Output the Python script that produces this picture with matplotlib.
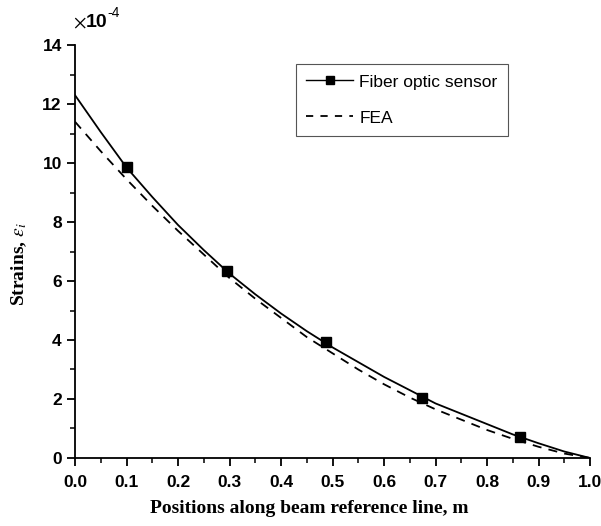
import matplotlib
matplotlib.use("Agg")
import matplotlib.pyplot as plt
from matplotlib.ticker import MultipleLocator
from matplotlib.lines import Line2D

# Data (strain in units of 1e-4)
x_curve = [0.0, 0.05, 0.1, 0.15, 0.2, 0.25, 0.3, 0.35, 0.4, 0.45, 0.5,
           0.55, 0.6, 0.65, 0.7, 0.75, 0.8, 0.85, 0.9, 0.95, 1.0]
sensor_curve = [12.3, 11.05, 9.85, 8.85, 7.9, 7.05, 6.25, 5.55, 4.9, 4.3, 3.75,
                3.25, 2.75, 2.3, 1.85, 1.5, 1.15, 0.8, 0.5, 0.22, 0.0]
fea_curve = [11.4, 10.4, 9.45, 8.55, 7.7, 6.9, 6.1, 5.4, 4.75, 4.1, 3.55,
             3.0, 2.5, 2.05, 1.65, 1.3, 0.95, 0.65, 0.38, 0.15, 0.0]
sensor_x = [0.1, 0.295, 0.487, 0.674, 0.864]
sensor_y = [9.85, 6.33, 3.92, 2.05, 0.70]

x_ticks = [0.0, 0.1, 0.2, 0.3, 0.4, 0.5, 0.6, 0.7, 0.8, 0.9, 1.0]
y_ticks = [0, 2, 4, 6, 8, 10, 12, 14]

plt.rcParams['mathtext.fontset'] = 'stix'

fig = plt.figure(figsize=(6.01, 5.26), dpi=100)
ax = fig.add_axes([0.1248, 0.1293, 0.8569, 0.7851])

ax.plot(x_curve, sensor_curve, color='black', lw=1.3)
ax.plot(sensor_x, sensor_y, ls='none', marker='s', ms=7, color='black')
ax.plot(x_curve, fea_curve, color='black', lw=1.3, ls=(0, (5, 4)))

h1 = Line2D([], [], color='black', lw=1.0, marker='s', ms=6)
h2 = Line2D([], [], color='black', lw=1.3, ls=(0, (4, 4)))
leg = ax.legend([h1, h2], ['Fiber optic sensor', 'FEA'],
                loc='upper right', bbox_to_anchor=(0.845, 1 - 64 / 526),
                bbox_transform=fig.transFigure,
                prop={'family': 'Liberation Sans', 'size': 12.5},
                fancybox=False, framealpha=1, edgecolor='#555555',
                handlelength=2.7, handletextpad=0.35, borderpad=0.6,
                labelspacing=1.2, borderaxespad=0)
leg.get_frame().set_linewidth(0.8)

ax.set_xlim(0, 1.0)
ax.set_ylim(0, 14)
ax.set_xticks(x_ticks)
ax.set_yticks(y_ticks)
ax.set_xticklabels([f"{v:.1f}" for v in x_ticks])
ax.set_yticklabels([str(v) for v in y_ticks])
ax.xaxis.set_minor_locator(MultipleLocator(0.05))
ax.yaxis.set_minor_locator(MultipleLocator(1))

for s in ['top', 'right']:
    ax.spines[s].set_visible(False)
for s in ['left', 'bottom']:
    ax.spines[s].set_linewidth(1.3)
ax.tick_params(which='major', direction='out', length=6, width=1.3)
ax.tick_params(axis='x', which='major', pad=6)
ax.tick_params(which='minor', direction='out', length=3.5, width=1.1)
for lab in ax.get_xticklabels() + ax.get_yticklabels():
    lab.set_fontfamily('Liberation Sans')
    lab.set_fontweight('bold')
    lab.set_fontsize(12.5)

ax.set_xlabel('Positions along beam reference line, m', family='Liberation Serif',
              fontweight='bold', fontsize=14)
ax.set_ylabel(r'Strains, $\varepsilon_i$', family='Liberation Serif',
              fontweight='bold', fontsize=14)
ax.xaxis.set_label_coords(0.455, -0.102)
ax.yaxis.set_label_coords(-0.09, 0.47)

fig.text(0.121, 0.948, r'$\times$', fontsize=14, va='baseline', ha='left')
fig.text(0.143, 0.948, '10', family='Liberation Sans', fontweight='bold', fontsize=14, va='baseline', ha='left')
fig.text(0.178, 0.968, '-4', family='Liberation Sans', fontsize=10, va='baseline', ha='left')

fig.savefig('out.png', dpi=100)
